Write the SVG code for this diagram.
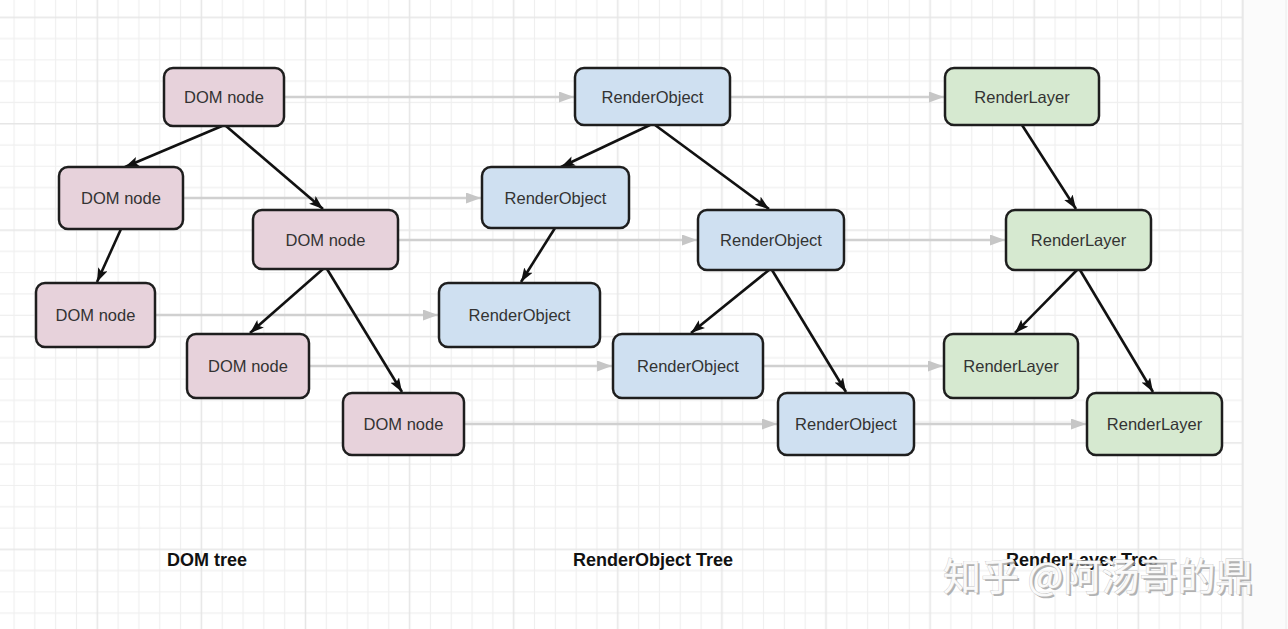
<svg xmlns="http://www.w3.org/2000/svg" width="1288" height="629" viewBox="0 0 1288 629">
<style>
.node rect{stroke:#1e1e1e;stroke-width:2.5}
.dom rect{fill:#e7d2db}
.ro rect{fill:#cfe0f1}
.rl rect{fill:#d6e9d0}
.node text{font-family:"Liberation Sans",Arial,sans-serif;font-size:16.5px;fill:#333;text-anchor:middle}
.tree{stroke:#111;stroke-width:2.6;fill:none}
.map{stroke:#d0d0d0;stroke-width:2.5;fill:none}
.title{font-family:"Liberation Sans",Arial,sans-serif;font-size:18px;font-weight:bold;fill:#111;text-anchor:middle}
.wm{font-family:"Noto Sans CJK SC","Liberation Sans",sans-serif;font-size:38px}
</style>
<defs>
<pattern id="grid" patternUnits="userSpaceOnUse" x="86.89" y="6.66" width="104.1" height="106.4">
<g stroke="#efefef" stroke-width="1.2">
<line x1="31.23" y1="0" x2="31.23" y2="106.4"/>
<line x1="52.05" y1="0" x2="52.05" y2="106.4"/>
<line x1="72.87" y1="0" x2="72.87" y2="106.4"/>
<line x1="93.69" y1="0" x2="93.69" y2="106.4"/>
<line x1="0" y1="31.92" x2="104.1" y2="31.92"/>
<line x1="0" y1="53.2" x2="104.1" y2="53.2"/>
<line x1="0" y1="74.48" x2="104.1" y2="74.48"/>
<line x1="0" y1="95.76" x2="104.1" y2="95.76"/>
</g>
<g stroke="#e6e6e6" stroke-width="1.6">
<line x1="10.41" y1="0" x2="10.41" y2="106.4"/>
<line x1="0" y1="10.64" x2="104.1" y2="10.64"/>
</g>
</pattern>
<marker id="ab" markerUnits="userSpaceOnUse" markerWidth="15" markerHeight="11" refX="14" refY="5" orient="auto">
<path d="M0,0 L14,5 L0,10 L3,5 z" fill="#111"/>
</marker>
<marker id="ag" markerUnits="userSpaceOnUse" markerWidth="16" markerHeight="12" refX="15" refY="5.5" orient="auto">
<path d="M0,0 L15,5.5 L0,11 z" fill="#c6c6c6"/>
</marker>
</defs>
<rect x="0" y="0" width="1288" height="629" fill="#ffffff"/>
<rect x="0" y="0" width="1243" height="629" fill="url(#grid)"/>
<rect x="1243" y="0" width="45" height="629" fill="#fbfbfb"/>
<line x1="1243" y1="0" x2="1243" y2="629" stroke="#e8e8e8" stroke-width="1.5"/>
<line x1="1286" y1="0" x2="1286" y2="629" stroke="#ececec" stroke-width="1"/>

<g id="connectors">
<g id="mapping">
<line class="map" x1="285" y1="97" x2="574" y2="97" marker-end="url(#ag)"/>
<line class="map" x1="731" y1="97" x2="944" y2="97" marker-end="url(#ag)"/>
<line class="map" x1="184" y1="198" x2="481" y2="198" marker-end="url(#ag)"/>
<line class="map" x1="399" y1="240" x2="697" y2="240" marker-end="url(#ag)"/>
<line class="map" x1="845" y1="240" x2="1005" y2="240" marker-end="url(#ag)"/>
<line class="map" x1="156" y1="315" x2="438" y2="315" marker-end="url(#ag)"/>
<line class="map" x1="310" y1="366" x2="612" y2="366" marker-end="url(#ag)"/>
<line class="map" x1="764" y1="366" x2="943" y2="366" marker-end="url(#ag)"/>
<line class="map" x1="465" y1="424" x2="777" y2="424" marker-end="url(#ag)"/>
<line class="map" x1="915" y1="424" x2="1086" y2="424" marker-end="url(#ag)"/>
</g>
<g id="tree-edges">
<line class="tree" x1="222" y1="126" x2="125" y2="167" marker-end="url(#ab)"/>
<line class="tree" x1="226" y1="126" x2="323" y2="209" marker-end="url(#ab)"/>
<line class="tree" x1="121" y1="229" x2="97" y2="282" marker-end="url(#ab)"/>
<line class="tree" x1="323" y1="269" x2="250" y2="333" marker-end="url(#ab)"/>
<line class="tree" x1="327" y1="269" x2="402" y2="392" marker-end="url(#ab)"/>
<line class="tree" x1="650" y1="125" x2="561" y2="167" marker-end="url(#ab)"/>
<line class="tree" x1="655" y1="125" x2="769" y2="209" marker-end="url(#ab)"/>
<line class="tree" x1="555" y1="228" x2="521" y2="282" marker-end="url(#ab)"/>
<line class="tree" x1="769" y1="270" x2="691" y2="333" marker-end="url(#ab)"/>
<line class="tree" x1="772" y1="270" x2="846" y2="392" marker-end="url(#ab)"/>
<line class="tree" x1="1022" y1="125" x2="1076" y2="209" marker-end="url(#ab)"/>
<line class="tree" x1="1077" y1="270" x2="1015" y2="333" marker-end="url(#ab)"/>
<line class="tree" x1="1080" y1="270" x2="1153" y2="392" marker-end="url(#ab)"/>
</g>
</g>

<g id="dom1" class="node dom"><rect x="164" y="68" width="120" height="58" rx="9"/><text x="224" y="103">DOM node</text></g>
<g id="dom2" class="node dom"><rect x="59" y="167" width="124" height="62" rx="9"/><text x="121" y="204">DOM node</text></g>
<g id="dom3" class="node dom"><rect x="253" y="210" width="145" height="59" rx="9"/><text x="325.5" y="245.5">DOM node</text></g>
<g id="dom4" class="node dom"><rect x="36" y="283" width="119" height="64" rx="9"/><text x="95.5" y="321">DOM node</text></g>
<g id="dom5" class="node dom"><rect x="187" y="334" width="122" height="64" rx="9"/><text x="248" y="372">DOM node</text></g>
<g id="dom6" class="node dom"><rect x="343" y="393" width="121" height="62" rx="9"/><text x="403.5" y="430">DOM node</text></g>

<g id="ro1" class="node ro"><rect x="575" y="68" width="155" height="57" rx="9"/><text x="652.5" y="102.5">RenderObject</text></g>
<g id="ro2" class="node ro"><rect x="482" y="167" width="147" height="61" rx="9"/><text x="555.5" y="203.5">RenderObject</text></g>
<g id="ro3" class="node ro"><rect x="698" y="210" width="146" height="60" rx="9"/><text x="771" y="246">RenderObject</text></g>
<g id="ro4" class="node ro"><rect x="439" y="283" width="161" height="64" rx="9"/><text x="519.5" y="321">RenderObject</text></g>
<g id="ro5" class="node ro"><rect x="613" y="334" width="150" height="64" rx="9"/><text x="688" y="372">RenderObject</text></g>
<g id="ro6" class="node ro"><rect x="778" y="393" width="136" height="62" rx="9"/><text x="846" y="430">RenderObject</text></g>

<g id="rl1" class="node rl"><rect x="945" y="68" width="154" height="57" rx="9"/><text x="1022" y="102.5">RenderLayer</text></g>
<g id="rl2" class="node rl"><rect x="1006" y="210" width="145" height="60" rx="9"/><text x="1078.5" y="246">RenderLayer</text></g>
<g id="rl3" class="node rl"><rect x="944" y="334" width="134" height="64" rx="9"/><text x="1011" y="372">RenderLayer</text></g>
<g id="rl4" class="node rl"><rect x="1087" y="393" width="135" height="62" rx="9"/><text x="1154.5" y="430">RenderLayer</text></g>

<g id="titles">
<text class="title" x="207" y="566">DOM tree</text>
<text class="title" x="653" y="566">RenderObject Tree</text>
<text class="title" x="1082" y="566">RenderLayer Tree</text>
</g>

<g id="watermark">
<text class="wm" x="945" y="592" fill="#9a9a9a" fill-opacity="0.75">知乎 @阿汤哥的鼎</text>
<text class="wm" x="943" y="590" fill="#fafafa" stroke="#c8c8c8" stroke-width="0.8" paint-order="stroke">知乎 @阿汤哥的鼎</text>
</g>
</svg>
